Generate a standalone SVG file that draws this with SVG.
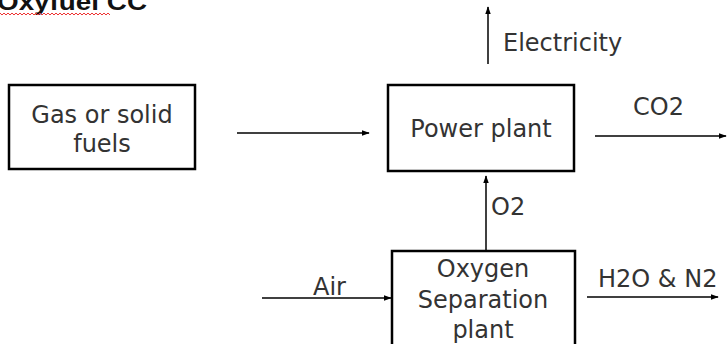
<svg xmlns="http://www.w3.org/2000/svg" width="727" height="344" viewBox="0 0 727 344">
<defs>
<marker id="arr" viewBox="0 0 10 10" refX="9" refY="5" markerWidth="8" markerHeight="8" orient="auto" markerUnits="userSpaceOnUse">
<path d="M0,1.5 L10,5 L0,8.5 z" fill="#000"/>
</marker>
<style>
.box{fill:#fff;stroke:#000;stroke-width:2.5}
.t{font-family:"DejaVu Sans","Verdana",sans-serif;font-size:24px;fill:#333;text-anchor:middle}
.l{font-family:"DejaVu Sans","Verdana",sans-serif;font-size:24px;fill:#333}
.c{stroke:#000;stroke-width:1.5;fill:none;marker-end:url(#arr)}
</style>
</defs>
<rect width="727" height="344" fill="#fff"/>
<g id="title">
<text x="-3" y="10" font-family="'Liberation Sans',Arial,sans-serif" font-weight="bold" font-size="24" fill="#111" textLength="150" lengthAdjust="spacingAndGlyphs">Oxyfuel CC</text>
<polyline points="0,13 2,15 4,13 6,15 8,13 10,15 12,13 14,15 16,13 18,15 20,13 22,15 24,13 26,15 28,13 30,15 32,13 34,15 36,13 38,15 40,13 42,15 44,13 46,15 48,13 50,15 52,13 54,15 56,13 58,15 60,13 62,15 64,13 66,15 68,13 70,15 72,13 74,15 76,13 78,15 80,13 82,15 84,13 86,15 88,13 90,15 92,13 94,15 96,13 98,15 100,13 102,15 104,13 106,15 108,13 110,15" fill="none" stroke="#e33" stroke-width="1"/>
</g>
<g id="fuels">
<rect class="box" x="9" y="85" width="186" height="84"/>
<text class="t" x="102" y="123">Gas or solid</text>
<text class="t" x="102" y="152">fuels</text>
</g>
<g id="power">
<rect class="box" x="388" y="85" width="186" height="86"/>
<text class="t" x="481" y="137">Power plant</text>
</g>
<g id="osp">
<rect class="box" x="392" y="251" width="183" height="96"/>
<text class="t" x="483" y="277">Oxygen</text>
<text class="t" x="483" y="308">Separation</text>
<text class="t" x="483" y="338">plant</text>
</g>
<g id="connectors">
<line class="c" x1="237" y1="133" x2="369" y2="133"/>
<line class="c" x1="488" y1="64" x2="488" y2="7"/>
<line class="c" x1="595" y1="136" x2="726" y2="136"/>
<line class="c" x1="486" y1="250" x2="486" y2="176"/>
<line class="c" x1="262" y1="298" x2="391" y2="298"/>
<line class="c" x1="587" y1="297" x2="718" y2="297"/>
</g>
<g id="labels">
<text class="l" x="503" y="51">Electricity</text>
<text class="l" x="633" y="115">CO2</text>
<text class="l" x="491" y="215">O2</text>
<text class="l" x="313" y="295">Air</text>
<text class="l" x="598" y="287">H2O &amp; N2</text>
</g>
</svg>
